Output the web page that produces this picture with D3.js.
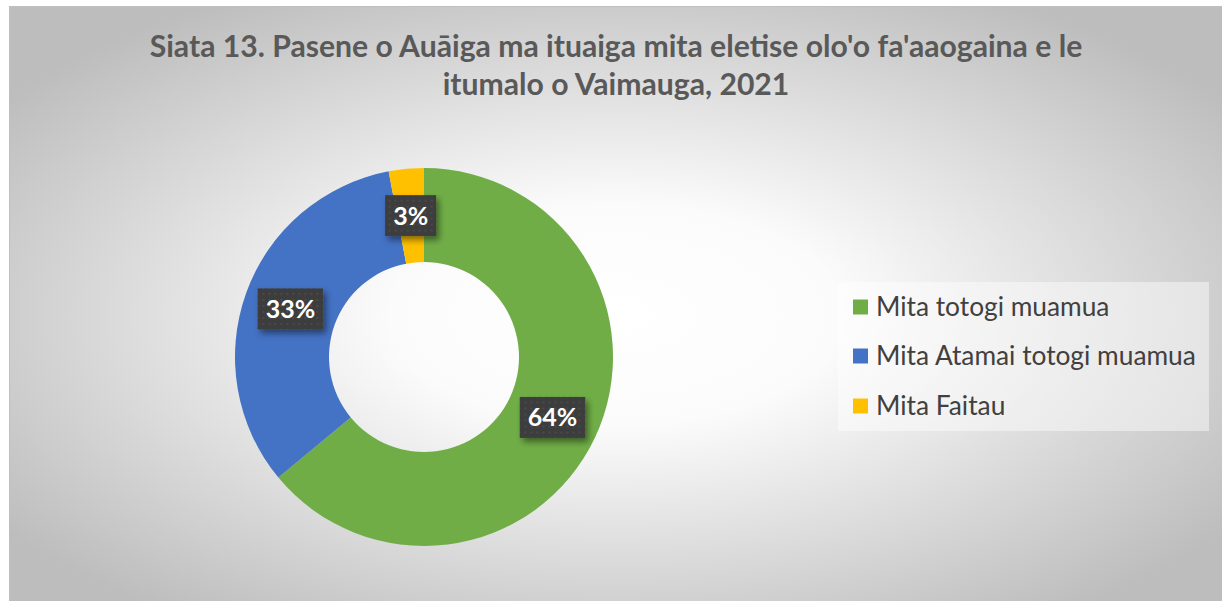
<!DOCTYPE html>
<html><head><meta charset="utf-8">
<script src="https://cdn.jsdelivr.net/npm/d3@7"></script>
<style>body{margin:0;background:#fff;}svg{display:block;}</style>
</head><body>
<script>
const categories = ["Mita totogi muamua", "Mita Atamai totogi muamua", "Mita Faitau"];
const values = [64, 33, 3];
const labels = ["64%", "33%", "3%"];
const colors = ["#70ad47", "#4472c4", "#ffc000"];
const titleLines = ["Siata 13. Pasene o Auāiga ma ituaiga mita eletise olo'o fa'aaogaina e le", "itumalo o Vaimauga, 2021"];

const W = 1222, H = 601;
const svg = d3.select("body").append("svg").attr("width", W).attr("height", H);
const defs = svg.append("defs");
const rg = defs.append("radialGradient").attr("id", "bg").attr("cx", "50%").attr("cy", "52%").attr("r", "62%");
rg.append("stop").attr("offset", "0%").attr("stop-color", "#ffffff");
rg.append("stop").attr("offset", "30%").attr("stop-color", "#fbfbfb");
rg.append("stop").attr("offset", "100%").attr("stop-color", "#bdbdbd");

const pat = defs.append("pattern").attr("id", "dots").attr("patternUnits", "userSpaceOnUse")
  .attr("width", 6).attr("height", 6);
pat.append("rect").attr("width", 6).attr("height", 6).attr("fill", "#3d3d3d");
pat.append("circle").attr("cx", 3).attr("cy", 3).attr("r", 1.1).attr("fill", "#4c4c4c");

const f = defs.append("filter").attr("id", "sh").attr("x", "-30%").attr("y", "-30%").attr("width", "170%").attr("height", "170%");
f.append("feDropShadow").attr("dx", 3).attr("dy", 4).attr("stdDeviation", 3).attr("flood-color", "#000").attr("flood-opacity", 0.45);

svg.append("rect").attr("x", 9).attr("y", 6).attr("width", W - 9).attr("height", H - 6)
  .attr("fill", "url(#bg)");
svg.append("line").attr("x1", 9).attr("x2", W).attr("y1", 6.5).attr("y2", 6.5).attr("stroke", "#bfbfbf");
svg.append("line").attr("x1", 9.5).attr("x2", 9.5).attr("y1", 6).attr("y2", H).attr("stroke", "#bfbfbf");

// Title
const tfam = "Lato, 'Open Sans', sans-serif";
const t1 = svg.append("text").attr("x", 616).attr("y", 57).attr("text-anchor", "middle")
  .attr("font-family", tfam).attr("font-weight", "bold").attr("font-size", 24).attr("fill", "#595959")
  .text(titleLines[0]);
let w1 = t1.node().getComputedTextLength();
const tsize = 24 * 933 / w1;
t1.attr("font-size", tsize);
svg.append("text").attr("x", 616).attr("y", 95).attr("text-anchor", "middle")
  .attr("font-family", tfam).attr("font-weight", "bold").attr("font-size", tsize).attr("fill", "#595959")
  .text(titleLines[1]);

// Donut
const cx = 424, cy = 357, rOut = 189, rIn = 95;
const pie = d3.pie().sort(null).value(d => d);
const arcs = pie(values);
const arc = d3.arc().innerRadius(rIn).outerRadius(rOut);
const g = svg.append("g").attr("transform", `translate(${cx},${cy})`);
g.selectAll("path").data(arcs).enter().append("path")
  .attr("d", arc).attr("fill", (d, i) => colors[i]);

// Labels
const lfam = "Lato, 'Open Sans', sans-serif";
const lab = d3.arc().innerRadius((rIn + rOut) / 2).outerRadius((rIn + rOut) / 2);
arcs.forEach((d, i) => {
  const [x, y] = lab.centroid(d);
  const lg = g.append("g").attr("transform", `translate(${x},${y})`);
  const txt = lg.append("text").attr("text-anchor", "middle").attr("dy", "0.36em")
    .attr("font-family", lfam).attr("font-weight", "bold").attr("font-size", 25).attr("fill", "#fff")
    .text(labels[i]);
  const tw = txt.node().getComputedTextLength();
  const bw = tw + 16, bh = 41;
  lg.insert("rect", "text").attr("x", -bw / 2).attr("y", -bh / 2).attr("width", bw).attr("height", bh)
    .attr("fill", "url(#dots)").attr("filter", "url(#sh)");
});

// Legend
svg.append("rect").attr("x", 838).attr("y", 282).attr("width", 371).attr("height", 149)
  .attr("fill", "#ffffff").attr("fill-opacity", 0.45);
const lgd = svg.append("g");
const rowY = [307, 356, 406];
categories.forEach((c, i) => {
  lgd.append("rect").attr("x", 853).attr("y", rowY[i] - 7.5).attr("width", 15).attr("height", 15).attr("fill", colors[i]);
  lgd.append("text").attr("x", 876).attr("y", rowY[i]).attr("dy", "0.36em")
    .attr("font-family", lfam).attr("font-size", 21).attr("fill", "#404040").text(c);
});
const lt = lgd.selectAll("text").nodes();
const lw = lt[1].getComputedTextLength();
lgd.selectAll("text").attr("font-size", 21 * 320 / lw);
</script>
</body></html>
